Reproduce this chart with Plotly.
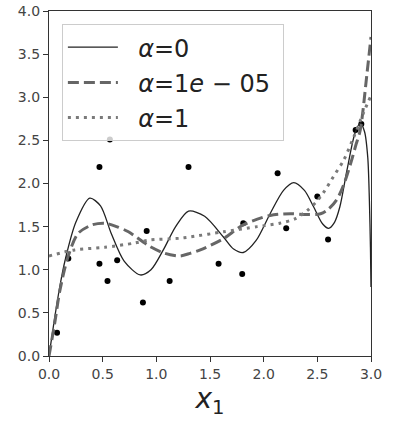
import plotly.graph_objects as go

# Data points
pts_x = [0.075, 0.18, 0.47, 0.47, 0.545, 0.567, 0.635, 0.875, 0.91, 1.124,
         1.30, 1.58, 1.80, 1.81, 2.13, 2.21, 2.50, 2.60, 2.857, 2.91]
pts_y = [0.27, 1.13, 2.19, 1.07, 0.87, 2.51, 1.11, 0.62, 1.45, 0.87,
         2.19, 1.07, 0.95, 1.54, 2.12, 1.48, 1.85, 1.35, 2.62, 2.69]

# alpha = 0 curve
a0_x = [0.00, 0.05, 0.10, 0.15, 0.25, 0.38, 0.48, 0.58, 0.70, 0.85, 0.95, 1.065,
        1.18, 1.30, 1.45, 1.625, 1.72, 1.81, 1.93, 2.06, 2.185, 2.28, 2.38, 2.465,
        2.55, 2.605, 2.66, 2.71, 2.777, 2.85, 2.90, 2.94, 2.97, 2.985, 2.995, 3.00]
a0_y = [0.00, 0.42, 0.80, 1.11, 1.55, 1.83, 1.74, 1.42, 1.10, 0.94, 1.00, 1.23,
        1.50, 1.68, 1.62, 1.38, 1.24, 1.20, 1.34, 1.65, 1.92, 2.01, 1.92, 1.73,
        1.53, 1.48, 1.55, 1.73, 2.16, 2.58, 2.70, 2.60, 2.30, 1.80, 1.25, 0.80]

# alpha = 1e-05 curve
a1_x = [0.00, 0.053, 0.10, 0.177, 0.27, 0.40, 0.52, 0.63, 0.74, 0.94, 1.08, 1.22,
        1.314, 1.41, 1.625, 1.81, 2.06, 2.25, 2.40, 2.53, 2.60, 2.68, 2.75, 2.81,
        2.86, 2.90, 2.963, 3.00]
a1_y = [0.00, 0.38, 0.75, 1.15, 1.42, 1.52, 1.54, 1.50, 1.44, 1.27, 1.19, 1.16,
        1.19, 1.23, 1.36, 1.52, 1.63, 1.65, 1.64, 1.65, 1.70, 1.81, 2.00, 2.23,
        2.45, 2.62, 3.28, 3.70]

# alpha = 1 curve
a2_x = [0.00, 0.24, 0.52, 0.80, 0.94, 1.22, 1.314, 1.625, 1.94, 2.15, 2.29, 2.40,
        2.50, 2.56, 2.65, 2.745, 2.84, 2.93, 3.00]
a2_y = [1.16, 1.23, 1.26, 1.31, 1.345, 1.365, 1.38, 1.44, 1.50, 1.54, 1.59, 1.68,
        1.80, 1.90, 2.08, 2.27, 2.54, 2.82, 3.02]

pad = "\u00a0\u00a0"
names = [pad + "<i>α</i>=0", pad + "<i>α</i>=1<i>e</i> − 05\u00a0", pad + "<i>α</i>=1"]

fig = go.Figure()
fig.add_trace(go.Scatter(x=pts_x, y=pts_y, mode="markers",
                         marker=dict(color="black", size=6), showlegend=False))
fig.add_trace(go.Scatter(x=a0_x, y=a0_y, mode="lines", name=names[0], legendgroup="a",
                         line=dict(color="#222222", width=1.3, shape="spline", smoothing=0.8)))
fig.add_trace(go.Scatter(x=a1_x, y=a1_y, mode="lines", name=names[1], legendgroup="b",
                         line=dict(color="#666666", width=3, dash="11px,5px",
                                   shape="spline", smoothing=0.8)))
fig.add_trace(go.Scatter(x=a2_x, y=a2_y, mode="lines", name=names[2], legendgroup="c",
                         line=dict(color="#7a7a7a", width=3, dash="3px,5px",
                                   shape="spline", smoothing=0.8)))

axis_common = dict(showline=True, linecolor="#333333", linewidth=1.2, mirror=True,
                   ticks="outside", ticklen=5, tickcolor="#333333", showgrid=False,
                   zeroline=False, tickfont=dict(size=14, color="#444444"),
                   tickformat=".1f", dtick=0.5, automargin=False)

fig.update_layout(
    width=399, height=422,
    margin=dict(l=49, r=28, t=11, b=66),
    paper_bgcolor="white", plot_bgcolor="white",
    font=dict(family="DejaVu Sans", color="#222222"),
    xaxis=dict(range=[0, 3], tick0=0,
               title=dict(text="<i>x</i><sub>1</sub>", font=dict(size=28, color="#222222"),
                          standoff=2),
               **axis_common),
    yaxis=dict(range=[0, 4], tick0=0, **axis_common),
    legend=dict(x=0.04, y=0.962, xanchor="left", yanchor="top",
                bgcolor="rgba(255,255,255,0.8)", bordercolor="#cccccc", borderwidth=1,
                font=dict(size=24, color="#222222"), itemwidth=50,
                tracegroupgap=1, traceorder="grouped"),
)

fig.write_html("out.html", config={"displayModeBar": False},
               post_script="document.body.style.margin='0';document.body.style.overflow='hidden';")
